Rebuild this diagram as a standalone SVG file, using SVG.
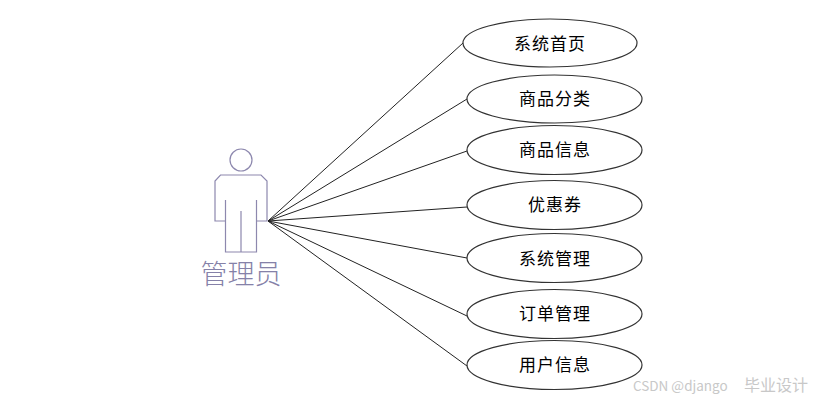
<svg xmlns="http://www.w3.org/2000/svg" width="819" height="401" viewBox="0 0 819 401">
<style>
.u{fill:#fff;stroke:#333;stroke-width:1.2}
.t{font:17px "Noto Sans CJK SC","Liberation Sans",sans-serif;fill:#000;text-anchor:middle;letter-spacing:1px}
.c line{stroke:#222;stroke-width:1}
.a{fill:none;stroke:#8d88ae;stroke-width:1.2}
</style>
<rect width="819" height="401" fill="#fff"/>
<g id="connectors" class="c">
<line x1="268" y1="221" x2="463" y2="43"/>
<line x1="268" y1="221" x2="467" y2="99"/>
<line x1="268" y1="221" x2="467" y2="151"/>
<line x1="268" y1="221" x2="467" y2="207"/>
<line x1="268" y1="221" x2="467" y2="258"/>
<line x1="268" y1="221" x2="467" y2="316"/>
<line x1="268" y1="221" x2="467" y2="366"/>
</g>
<g id="actor">
<circle class="a" cx="241" cy="160" r="11"/>
<path class="a" d="M225.500 221H215V181L220.500 175H261L267 181V221H256.500M225.500 200V252H256.500V200M241 211V252"/>
<text x="241" y="284" font-family="'Noto Sans CJK SC',sans-serif" font-size="27" fill="#8581a8" text-anchor="middle" font-weight="300">管理员</text>
</g>
<g id="n1"><ellipse class="u" cx="550" cy="43" rx="87" ry="24"/><text class="t" x="550" y="50">系统首页</text></g>
<g id="n2"><ellipse class="u" cx="554.500" cy="99" rx="87.500" ry="24"/><text class="t" x="555" y="105">商品分类</text></g>
<g id="n3"><ellipse class="u" cx="554.500" cy="150" rx="87.500" ry="24.500"/><text class="t" x="555" y="156">商品信息</text></g>
<g id="n4"><ellipse class="u" cx="554.500" cy="205" rx="87.500" ry="24.500"/><text class="t" x="555" y="211">优惠券</text></g>
<g id="n5"><ellipse class="u" cx="554.500" cy="258" rx="87.500" ry="24.500"/><text class="t" x="555" y="265">系统管理</text></g>
<g id="n6"><ellipse class="u" cx="554.500" cy="314" rx="87.500" ry="24.500"/><text class="t" x="555" y="320">订单管理</text></g>
<g id="n7"><ellipse class="u" cx="554.500" cy="365" rx="87.500" ry="24.500"/><text class="t" x="555" y="371">用户信息</text></g>
<text x="633" y="391" font-family="'Noto Sans CJK SC',sans-serif" font-size="13.500" fill="#c8c8c8">CSDN @django</text>
<text x="744" y="391" font-family="'Noto Sans CJK SC',sans-serif" font-size="16" fill="#c8c8c8">毕业设计</text>
</svg>
